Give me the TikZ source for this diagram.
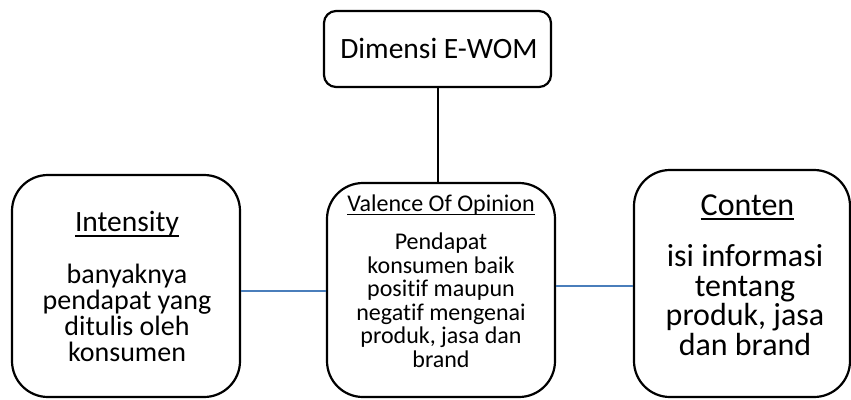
\documentclass[tikz,border=0pt]{standalone}
\usepackage{fontspec}
\setmainfont{Carlito}[Ligatures={NoCommon}]
\newcommand\myul[1]{\setbox0\hbox{#1}\rlap{\rule[-0.17em]{\wd0}{0.065em}}\box0}
\definecolor{linkblue}{RGB}{74,126,187}
\tikzset{
  box/.style={draw=black, line width=2.2pt, fill=white, inner sep=0pt},
  txt/.style={align=center, inner sep=0pt, anchor=base, text=black},
  link/.style={draw=linkblue, line width=2pt},
  stem/.style={draw=black, line width=2pt}
}
\begin{document}
\begin{tikzpicture}[x=1pt,y=-1pt]
\useasboundingbox (0,0) rectangle (851,399);
% boxes
\node[box, rounded corners=12pt, minimum width=227pt, minimum height=76pt] (T) at (437.5,49) {};
\node[box, rounded corners=36pt, minimum width=228pt, minimum height=222pt] (L) at (126,286) {};
\node[box, rounded corners=36pt, minimum width=228pt, minimum height=214pt] (M) at (441,290) {};
\node[box, rounded corners=36pt, minimum width=216pt, minimum height=227pt] (R) at (742,283.5) {};
% connectors
\draw[stem] (T.south) -- (T.south |- M.north);
\draw[link] ([yshift=-5pt]L.east) -- ([yshift=-5pt]L.east -| M.west);
\draw[link] ([yshift=-2.5pt]R.west -| M.east) -- ([yshift=-2.5pt]R.west);
% texts
\node[txt, font=\fontsize{29.5}{29}\selectfont] (Tt) at (439,58) {Dimensi E-WOM};
\node[txt, font=\fontsize{29.5}{29}\selectfont] (Lh) at (127,231.7) {\myul{Intensity}};
\node[txt, font=\fontsize{28}{26}\selectfont] (Lb) at (127,361.7) {banyaknya\\pendapat yang\\ditulis oleh\\konsumen};
\node[txt, font=\fontsize{24}{24}\selectfont] (Mh) at (441,211) {\myul{Valence Of Opinion}};
\node[txt, font=\fontsize{24}{23.5}\selectfont] (Mb) at (441,367) {Pendapat\\konsumen baik\\positif maupun\\negatif mengenai\\produk, jasa dan\\brand};
\node[txt, font=\fontsize{32}{29.5}\selectfont] (Rh) at (747.5,215) {\myul{Conten}};
\node[txt, font=\fontsize{32}{29.5}\selectfont] (Rb) at (745,355) {isi informasi\\tentang\\produk, jasa\\dan brand};
\end{tikzpicture}
\end{document}
